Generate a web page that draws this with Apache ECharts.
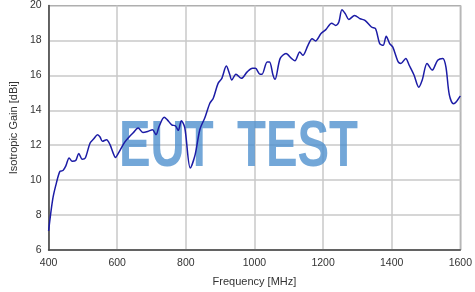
<!DOCTYPE html>
<html><head><meta charset="utf-8">
<script src="https://cdn.jsdelivr.net/npm/echarts@6/dist/echarts.min.js"></script>
<style>html,body{margin:0;padding:0;background:#fff}#c{width:475px;height:292px}</style>
</head><body><div id="c"></div>
<script>
const freq = [400,412,421,433,442,450,460,469,479,488,498,507,521,531,543,550,557,569,579,588,595,604,621,636,646,661,675,689,703,713,722,737,746,759,770,778,787,797,813,827,841,856,870,880,894,905,918,927,934,946,962,979,994,1003,1016,1022,1037,1044,1054,1060,1075,1092,1108,1118,1132,1141,1156,1168,1178,1194,1208,1225,1237,1246,1255,1265,1275,1292,1308,1322,1341,1353,1365,1375,1384,1394,1403,1419,1427,1441,1451,1465,1479,1489,1503,1518,1534,1549,1558,1568,1580,1589,1600];
const gain = [7.1,8.9,9.7,10.5,10.55,10.8,11.27,11.08,11.12,11.52,11.2,11.27,12.13,12.35,12.6,12.47,12.22,12.32,12.03,11.56,11.3,11.56,12.15,12.5,12.7,12.98,12.73,12.79,12.89,12.6,13.07,13.6,13.45,13.17,13.1,12.85,13.4,13.0,10.7,11.45,12.9,13.6,14.4,14.69,15.54,15.83,16.53,16.11,15.73,16.07,15.83,16.2,16.4,16.4,16.07,16.07,16.77,16.77,16.02,15.77,16.97,17.25,16.97,16.83,17.34,17.15,17.72,18.1,17.97,18.39,18.62,18.99,18.86,19.05,19.75,19.52,19.2,19.43,19.24,19.15,18.77,18.67,17.82,17.72,18.24,17.82,17.63,16.77,16.68,16.97,16.58,16.02,15.32,15.73,16.68,16.3,16.87,16.97,16.49,14.88,14.37,14.5,14.82];
const xTicks = [400,600,800,1000,1200,1400,1600];
const yTicks = [6,8,10,12,14,16,18,20];
const xName = 'Frequency [MHz]';
const yName = 'Isotropic Gain [dBi]';
const watermarkWords = ['EUT', 'TEST'];

const chart = echarts.init(document.getElementById('c'));
const font = '"Liberation Sans", Arial, sans-serif';
const wmStyle = (t) => ({text: t, fontSize: 64, fontWeight: 'bold', fontFamily: font,
  fill: 'rgba(75,142,205,0.78)', textVerticalAlign: 'top'});
chart.setOption({
  animation: false,
  grid: {left: 40.5, right: 14.5, top: 5, bottom: 41, show: true, borderColor: '#666', borderWidth: 1},
  xAxis: {
    type: 'value', min: xTicks[0], max: xTicks[xTicks.length-1], interval: 200,
    name: xName, nameLocation: 'middle', nameGap: 26,
    nameTextStyle: {color: '#333', fontSize: 11, fontFamily: font},
    axisLine: {lineStyle: {color: '#444', width: 1.5}},
    axisTick: {show: false},
    axisLabel: {color: '#333', fontSize: 10.5, fontFamily: font, margin: 8, formatter: v => String(v)},
    splitLine: {lineStyle: {color: '#c8c8c8', width: 1.5}}
  },
  yAxis: {
    type: 'value', min: yTicks[0], max: yTicks[yTicks.length-1], interval: 2,
    name: yName, nameLocation: 'middle', nameGap: 24,
    nameTextStyle: {color: '#333', fontSize: 11, fontFamily: font},
    axisLine: {show: true, lineStyle: {color: '#444', width: 1.5}},
    axisTick: {show: false},
    axisLabel: {color: '#333', fontSize: 10.5, fontFamily: font, margin: 7},
    splitLine: {lineStyle: {color: '#c8c8c8', width: 1.5}}
  },
  graphic: [
    {type: 'text', x: 119, y: 116.5, scaleX: 0.74, z: 1, style: wmStyle(watermarkWords[0])},
    {type: 'text', x: 237, y: 116.5, scaleX: 0.74, z: 1, style: wmStyle(watermarkWords[1])}
  ],
  series: [{
    type: 'line', data: freq.map((f, i) => [f, gain[i]]),
    showSymbol: false, smooth: 0.3,
    lineStyle: {color: '#1c1ca6', width: 1.5}, z: 5
  }]
});
</script></body></html>
